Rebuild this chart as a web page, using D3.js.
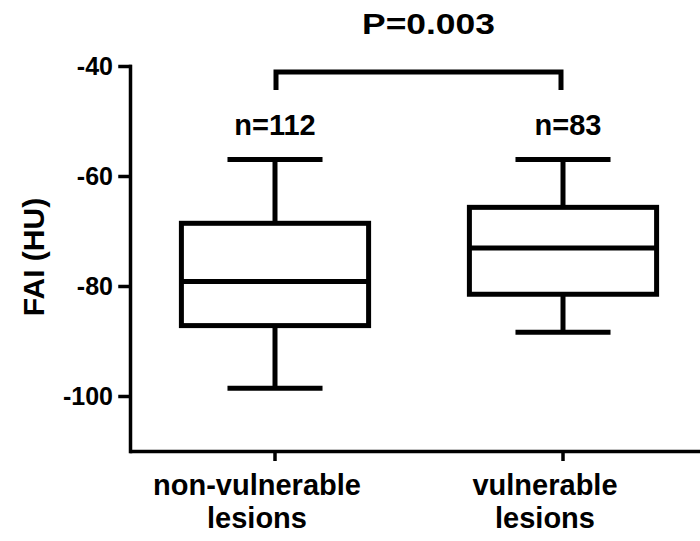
<!DOCTYPE html>
<html>
<head>
<meta charset="utf-8">
<script src="https://cdn.jsdelivr.net/npm/d3@7"></script>
<style>
    body { margin: 0; background: #fff; }
    text { font-family: 'Liberation Sans', Arial, sans-serif; font-weight: bold; fill: #000; }
</style>
</head>
<body>
<svg width="700" height="541"></svg>
<script>
// data
const groups = ['non-vulnerable lesions', 'vulnerable lesions'];
const counts = [112, 83];
const whiskerMax = [-57.0, -57.0];
const upperQuartile = [-68.6, -65.7];
const medians = [-79.2, -73.1];
const lowerQuartile = [-87.2, -81.5];
const whiskerMin = [-98.6, -88.4];
const yTicks = [-40, -60, -80, -100];
const pText = 'P=0.003';

const svg = d3.select('svg');

const data = groups.map((g, i) => ({
    group: g,
    n: counts[i],
    max: whiskerMax[i],
    q3: upperQuartile[i],
    median: medians[i],
    q1: lowerQuartile[i],
    min: whiskerMin[i]
}));

const xScale = d3.scaleBand()
    .domain(groups)
    .range([131, 707])
    .padding(0);

const yScale = d3.scaleLinear()
    .domain([-110, -40])
    .range([451, 66]);

const boxWidth = xScale.bandwidth() * 0.65;
const capWidth = xScale.bandwidth() * 0.33;
const cx = (d) => xScale(d.group) + xScale.bandwidth() / 2;

// y axis (plain hyphen like the original, not d3's minus sign)
const yAxisG = svg.append('g')
    .attr('transform', 'translate(130,0)')
    .call(d3.axisLeft(yScale)
        .tickValues(yTicks)
        .tickFormat((d) => String(d))
        .tickSize(10)
        .tickSizeOuter(0)
        .tickPadding(7));
yAxisG.selectAll('.domain, .tick line')
    .attr('stroke', '#000')
    .attr('stroke-width', 3.5)
    .attr('stroke-linecap', 'square');
yAxisG.selectAll('.tick text')
    .attr('font-size', null)
    .style('font-size', '25px');

// x axis
const xAxisG = svg.append('g')
    .attr('transform', 'translate(0,451)')
    .call(d3.axisBottom(xScale).tickSize(10).tickSizeOuter(0));
xAxisG.selectAll('.domain, .tick line')
    .attr('stroke', '#000')
    .attr('stroke-width', 3.5);
xAxisG.select('.domain').attr('stroke-linecap', 'square');
xAxisG.selectAll('.tick text').remove();

// category labels, two lines, sitting a bit left of the tick like the original
svg.selectAll('.cat-label')
    .data(data)
    .enter()
    .append('text')
    .attr('class', 'cat-label')
    .attr('text-anchor', 'middle')
    .style('font-size', '29px')
    .each(function (d) {
        const words = d.group.split(' ');
        const t = d3.select(this);
        words.forEach((w, j) => {
            t.append('tspan')
                .attr('x', cx(d) - 18)
                .attr('y', 495 + j * 33)
                .text(w);
        });
    });

// y axis title
svg.append('text')
    .attr('transform', 'translate(44,257) rotate(-90)')
    .attr('text-anchor', 'middle')
    .style('font-size', '30px')
    .text('FAI (HU)');

const boxes = svg.append('g')
    .attr('fill', 'none')
    .attr('stroke', '#000')
    .attr('stroke-width', 5);

// whisker stems
boxes.selectAll('.stem-top')
    .data(data)
    .enter()
    .append('line')
    .attr('x1', cx).attr('x2', cx)
    .attr('y1', (d) => yScale(d.max))
    .attr('y2', (d) => yScale(d.q3));
boxes.selectAll('.stem-bottom')
    .data(data)
    .enter()
    .append('line')
    .attr('x1', cx).attr('x2', cx)
    .attr('y1', (d) => yScale(d.q1))
    .attr('y2', (d) => yScale(d.min));

// caps
['max', 'min'].forEach((k) => {
    boxes.selectAll(`.cap-${k}`)
        .data(data)
        .enter()
        .append('line')
        .attr('x1', (d) => cx(d) - capWidth / 2)
        .attr('x2', (d) => cx(d) + capWidth / 2)
        .attr('y1', (d) => yScale(d[k]))
        .attr('y2', (d) => yScale(d[k]));
});

// boxes
boxes.selectAll('rect')
    .data(data)
    .enter()
    .append('rect')
    .attr('x', (d) => cx(d) - boxWidth / 2)
    .attr('width', boxWidth)
    .attr('y', (d) => yScale(d.q3))
    .attr('height', (d) => yScale(d.q1) - yScale(d.q3))
    .attr('fill', '#fff');

// medians
boxes.selectAll('.median')
    .data(data)
    .enter()
    .append('line')
    .attr('x1', (d) => cx(d) - boxWidth / 2)
    .attr('x2', (d) => cx(d) + boxWidth / 2)
    .attr('y1', (d) => yScale(d.median))
    .attr('y2', (d) => yScale(d.median));

// n labels
svg.selectAll('.n-label')
    .data(data)
    .enter()
    .append('text')
    .attr('class', 'n-label')
    .attr('x', (d, i) => cx(d) + (i === 1 ? 5 : 0))
    .attr('y', 135)
    .attr('text-anchor', 'middle')
    .style('font-size', '29px')
    .text((d) => `n=${d.n}`);

// significance bracket
const bx1 = cx(data[0]) + 1;
const bx2 = cx(data[1]) - 2;
svg.append('path')
    .attr('d', `M${bx1},90 V72 H${bx2} V90`)
    .attr('fill', 'none')
    .attr('stroke', '#000')
    .attr('stroke-width', 5);

svg.append('text')
    .attr('x', 362)
    .attr('y', 34)
    .attr('textLength', 133)
    .attr('lengthAdjust', 'spacingAndGlyphs')
    .style('font-size', '30px')
    .text(pText);
</script>
</body>
</html>
